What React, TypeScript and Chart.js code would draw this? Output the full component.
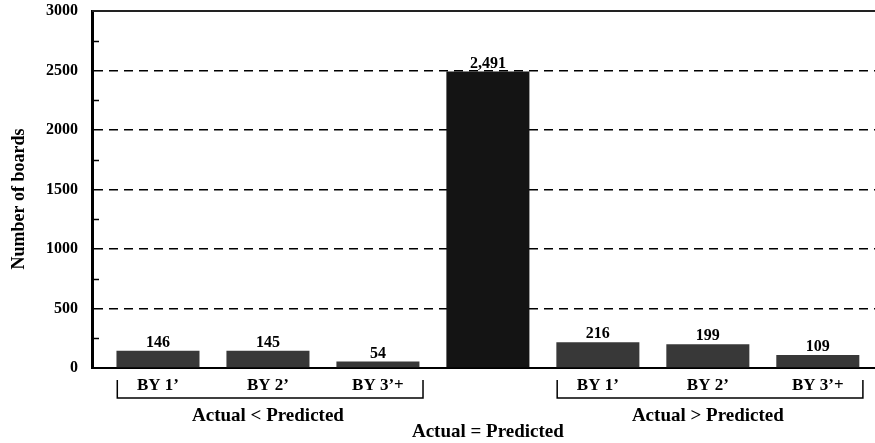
import React, { useEffect, useRef } from "react";
import { Chart, registerables } from "chart.js";

Chart.register(...registerables);

// ---- data ----
const categories = ["BY 1’", "BY 2’", "BY 3’+", "", "BY 1’", "BY 2’", "BY 3’+"];
const boards = [146, 145, 54, 2491, 216, 199, 109];
const barColors = ["#383838", "#383838", "#383838", "#141414", "#383838", "#383838", "#383838"];
const yTickValues = [0, 500, 1000, 1500, 2000, 2500, 3000];
const yMinorTicks = [250, 750, 1250, 1750, 2250, 2750];
const groupLabels = ["Actual < Predicted", "Actual = Predicted", "Actual > Predicted"];
const groupFirst = [0, 3, 4];
const groupLast = [2, 3, 6];
const groupRow = [0, 1, 0];
const yTitle = "Number of boards";

const FONT = "'Liberation Serif', 'Times New Roman', serif";

const annotate = {
  id: "annotate",
  afterDatasetsDraw(chart: any) {
    const { ctx, chartArea } = chart;
    const x = chart.scales.x;
    const y = chart.scales.y;
    ctx.save();
    // value labels
    ctx.font = `bold 16px ${FONT}`;
    ctx.fillStyle = "#000";
    ctx.textAlign = "center";
    ctx.textBaseline = "alphabetic";
    boards.forEach((v, i) => {
      ctx.fillText(v.toLocaleString("en-US"), x.getPixelForValue(i), y.getPixelForValue(v) - 4);
    });
    // minor ticks on y axis
    ctx.strokeStyle = "#000";
    ctx.lineWidth = 1.5;
    yMinorTicks.forEach((v) => {
      const py = Math.round(y.getPixelForValue(v)) + 0.5;
      ctx.beginPath();
      ctx.moveTo(chartArea.left, py);
      ctx.lineTo(chartArea.left + 7, py);
      ctx.stroke();
    });
    // top frame line
    const top = y.getPixelForValue(3000);
    ctx.lineWidth = 2;
    ctx.strokeStyle = "#222";
    ctx.beginPath();
    ctx.moveTo(chartArea.left, top);
    ctx.lineTo(chartArea.right, top);
    ctx.stroke();
    ctx.restore();
  },
  afterDraw(chart: any) {
    const { ctx, chartArea } = chart;
    const x = chart.scales.x;
    ctx.save();
    ctx.strokeStyle = "#000";
    ctx.lineWidth = 1.5;
    const b = chartArea.bottom;
    groupLabels.forEach((label, g) => {
      const first = groupFirst[g];
      const last = groupLast[g];
      if (last > first) {
        const xl = x.getPixelForValue(first - 0.37);
        const xr = x.getPixelForValue(last + 0.41);
        ctx.beginPath();
        ctx.moveTo(xl, b + 12);
        ctx.lineTo(xl, b + 30);
        ctx.lineTo(xr, b + 30);
        ctx.lineTo(xr, b + 12);
        ctx.stroke();
      }
      const cx = x.getPixelForValue((first + last) / 2);
      ctx.font = `bold 19px ${FONT}`;
      ctx.fillStyle = "#000";
      ctx.textAlign = "center";
      ctx.textBaseline = "middle";
      ctx.fillText(label, cx, b + 48 + groupRow[g] * 16);
    });
    // y axis title
    ctx.translate(19, 199);
    ctx.rotate(-Math.PI / 2);
    ctx.font = `bold 18px ${FONT}`;
    ctx.textAlign = "center";
    ctx.textBaseline = "middle";
    ctx.fillText(yTitle, 0, 0);
    ctx.restore();
  },
};

export default function App() {
  const ref = useRef<HTMLCanvasElement | null>(null);
  useEffect(() => {
    document.body.style.margin = "0";
    const canvas = ref.current!;
    const chart = new Chart(canvas, {
      type: "bar",
      data: {
        datasets: [
          {
            data: boards.map((v, i) => ({ x: i, y: v })),
            backgroundColor: barColors,
            borderWidth: 0,
            categoryPercentage: 1,
            barPercentage: 0.755,
          } as any,
        ],
      },
      options: {
        responsive: false,
        animation: false,
        devicePixelRatio: 1,
        layout: { padding: { top: 11, right: 0, left: 0, bottom: 0 } },
        plugins: { legend: { display: false }, tooltip: { enabled: false } },
        scales: {
          x: {
            type: "linear",
            offset: false,
            min: -0.6,
            max: 6.52,
            afterBuildTicks: (axis: any) => {
              axis.ticks = categories.map((_, i) => ({ value: i }));
            },
            afterFit: (axis: any) => {
              axis.height = 75;
              axis.paddingLeft = 0;
              axis.paddingRight = 0;
            },
            grid: { display: false, drawTicks: false },
            border: { display: true, color: "#000", width: 2 },
            ticks: {
              autoSkip: false,
              maxRotation: 0,
              padding: 7,
              color: "#000",
              font: { family: FONT, size: 17, weight: "bold" },
              callback: (value: any) => categories[value as number] ?? "",
            },
          },
          y: {
            min: 0,
            max: 3000,
            afterBuildTicks: (axis: any) => {
              axis.ticks = yTickValues.map((v) => ({ value: v }));
            },
            afterFit: (axis: any) => {
              axis.width = 92;
              axis.paddingTop = 0;
              axis.paddingBottom = 0;
            },
            grid: {
              drawTicks: false,
              lineWidth: 1.5,
              color: (c: any) =>
                c.tick && (c.tick.value === 0 || c.tick.value === 3000) ? "rgba(0,0,0,0)" : "#000",
            },
            border: { display: true, color: "#000", width: 3, dash: [9, 6] },
            ticks: {
              padding: 14,
              color: "#000",
              font: { family: FONT, size: 16, weight: "bold" },
              callback: (value: any) => String(value),
            },
          },
        },
      },
      plugins: [annotate],
    });
    return () => chart.destroy();
  }, []);
  return (
    <div style={{ width: 875, height: 443 }}>
      <canvas ref={ref} width={875} height={443} style={{ display: "block" }} />
    </div>
  );
}
